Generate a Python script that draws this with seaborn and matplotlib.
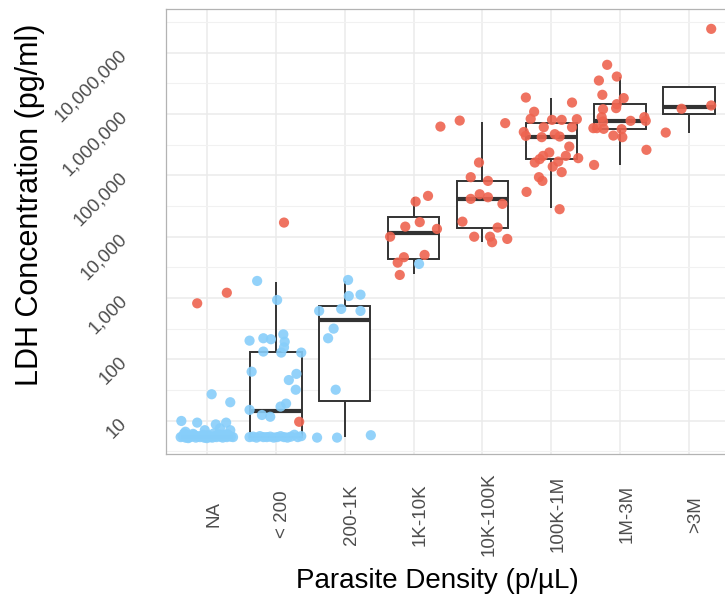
import pandas as pd
import seaborn as sns
import matplotlib.pyplot as plt
import matplotlib.transforms as mtransforms


sns.set_theme(style="white")
plt.rcParams["font.family"] = ["Liberation Sans", "DejaVu Sans"]

categories = ["NA", "< 200", "200-1K", "1K-10K", "10K-100K", "100K-1M", "1M-3M", ">3M"]

y_ticks = [10, 100, 1000, 10000, 100000, 1000000, 10000000]
y_tick_labels = ["10", "100", "1,000", "10,000", "100,000", "1,000,000", "10,000,000"]

# points: jitter offset (share of category step), LDH value, colour group
na_dx = [-0.14, 0.29, 0.07, 0.34, -0.37, -0.14, 0.13, 0.28, -0.03, -0.31, 0.34, 0.19,
         -0.38, -0.35, -0.31, -0.28, -0.25, -0.22, -0.19, -0.16, -0.13, -0.10, -0.07, -0.04,
         -0.01, 0.02, 0.05, 0.08, 0.11, 0.14, 0.17, 0.20, 0.23, 0.26, 0.29, 0.32,
         0.35, 0.38, -0.33, -0.20, -0.05, 0.10, 0.24, -0.27, 0.00, 0.30]
na_ldh = [820, 1220, 27, 20, 9.9, 9.3, 8.7, 9.3, 7.0, 6.6, 7.0, 7.5,
          5.4, 5.6, 5.3, 5.8, 5.4, 5.5, 5.9, 5.3, 5.6, 5.4, 5.7, 5.3,
          5.5, 5.8, 5.4, 5.3, 5.6, 5.4, 6.0, 5.5, 5.3, 5.6, 5.4, 5.7,
          5.5, 5.4, 6.2, 6.1, 5.9, 6.2, 5.9, 5.2, 5.2, 6.0]
na_grp = ["red", "red"] + ["blue"] * 44

lt200_dx = [0.12, 0.34, -0.27, 0.02, -0.38, -0.18, -0.07, 0.11, 0.13, 0.12, -0.18, 0.08,
            0.37, -0.35, 0.19, 0.30, 0.29, 0.15, 0.07, -0.38, -0.20, -0.08,
            -0.38, -0.33, -0.28, -0.23, -0.18, -0.13, -0.08, -0.03, 0.02, 0.07,
            0.12, 0.17, 0.22, 0.27, 0.32, 0.37]
lt200_ldh = [17000, 9.6, 1900, 930, 202, 221, 213, 256, 194, 157, 134, 129,
             129, 63, 46, 58, 32, 19, 17, 15, 12.4, 11.6,
             5.4, 5.5, 5.3, 5.6, 5.4, 5.4, 5.5, 5.3, 5.4, 5.6,
             5.4, 5.3, 5.5, 5.9, 5.4, 5.6]
lt200_grp = ["red", "red"] + ["blue"] * 36

k200_dx = [0.05, 0.06, 0.23, -0.37, -0.05, 0.23, -0.16, -0.24, -0.13, -0.40, -0.11, 0.38]
k200_ldh = [1970, 1080, 1135, 617, 664, 617, 317, 221, 32, 5.3, 5.3, 5.8]
k200_grp = ["blue"] * 12

k1_dx = [0.03, 0.21, -0.12, 0.09, 0.34, -0.34, -0.14, 0.16, -0.23, -0.20, 0.39, 0.08]
k1_ldh = [37400, 46300, 14600, 17300, 13400, 10000, 4630, 5050, 3780, 2380, 625000, 3600]
k1_grp = ["red"] * 11 + ["blue"]

k10_dx = [-0.33, 0.33, -0.05, -0.17, 0.08, -0.04, 0.08, -0.17, 0.29, -0.29, 0.22, -0.12,
          0.11, 0.14, 0.36]
k10_ldh = [783000, 711000, 162000, 93500, 81300, 49300, 44000, 41400, 34300, 17600, 14100,
           10000, 10000, 8130, 9200]
k10_grp = ["red"] * 15

k100_dx = [-0.40, -0.36, -0.37, 0.30, -0.25, -0.30, 0.01, 0.15, 0.37, -0.11, 0.30, -0.37,
           -0.14, 0.05, 0.12, 0.26, -0.03, -0.12, -0.17, -0.24, 0.21, 0.39, 0.10, 0.02,
           0.15, -0.18, -0.13, 0.12]
k100_ldh = [510000, 53800, 1860000, 1540000, 1090000, 835000, 804000, 804000, 826000,
            611000, 611000, 441000, 420000, 470000, 430000, 295000, 236000, 208000,
            184000, 162000, 208000, 191000, 168000, 139000, 113000, 93500, 81300, 28100]
k100_grp = ["red"] * 28

m1_dx = [-0.19, -0.31, -0.05, -0.26, 0.05, -0.05, -0.06, -0.25, -0.27, -0.25, 0.15, 0.35,
         0.37, -0.39, -0.24, 0.02, -0.10, 0.03, 0.38, -0.38, -0.34]
m1_ldh = [6350000, 3520000, 4090000, 2060000, 1820000, 1450000, 1250000, 1200000, 890000,
          755000, 775000, 890000, 775000, 589000, 574000, 567000, 446000, 420000, 261000,
          148000, 589000]
m1_grp = ["red"] * 21

m3_dx = [0.32, -0.11, 0.32, -0.34]
m3_ldh = [24500000, 1220000, 1380000, 499000]
m3_grp = ["red"] * 4

# box summaries (low whisker, q1, median, q3, high whisker)
box_lo = [5.5, 5.4, 5.35, 2470, 8320, 29200, 148000, 499000]
box_q1 = [5.5, 5.4, 20.7, 4290, 14100, 184000, 574000, 995000]
box_med = [5.5, 14.6, 440, 11700, 40900, 429000, 783000, 1300000]
box_q3 = [5.5, 134, 743, 20800, 81300, 727000, 1450000, 2810000]
box_hi = [5.5, 1850, 1900, 45100, 755000, 1820000, 4090000, 2810000]

groups = [(na_dx, na_ldh, na_grp), (lt200_dx, lt200_ldh, lt200_grp),
          (k200_dx, k200_ldh, k200_grp), (k1_dx, k1_ldh, k1_grp),
          (k10_dx, k10_ldh, k10_grp), (k100_dx, k100_ldh, k100_grp),
          (m1_dx, m1_ldh, m1_grp), (m3_dx, m3_ldh, m3_grp)]

rows = []
for i, (dx, ldh, grp) in enumerate(groups):
    for d, v, g in zip(dx, ldh, grp):
        rows.append({"pos": i + d, "ldh": v, "grp": g})
pts = pd.DataFrame(rows)

box_rows = []
for i, cat in enumerate(categories):
    for v in (box_lo[i], box_q1[i], box_med[i], box_q3[i], box_hi[i]):
        box_rows.append({"cat": cat, "ldh": v})
boxes = pd.DataFrame(box_rows)


fig = plt.figure(figsize=(7.25, 6.04), dpi=100)
ax = fig.add_axes([165.5 / 725, 1 - 454 / 604, 565 / 725, 445 / 604])
ax.set_yscale("log")

sns.boxplot(data=boxes, x="cat", y="ldh", order=categories, whis=(0, 100), width=0.75,
            color="white", linecolor="#333333", linewidth=1.4, showcaps=False,
            showfliers=False, medianprops={"linewidth": 3.0}, ax=ax)

sns.scatterplot(data=pts, x="pos", y="ldh", hue="grp",
                palette={"blue": "#87CEFA", "red": "#EE6450"},
                s=54, linewidth=0, alpha=0.9, legend=False, zorder=3, ax=ax)

ax.set_xlim(-0.6, 7.6)
ax.set_ylim(10 ** 0.457, 10 ** 7.713)

ax.set_yticks(y_ticks, y_tick_labels)
ax.set_yticks([10 ** (k + 0.5) for k in range(0, 8)], minor=True)
ax.yaxis.set_minor_formatter(plt.NullFormatter())
ax.set_xticks(range(len(categories)), categories)

ax.set_axisbelow(True)
ax.grid(which="major", color="#EBEBEB", linewidth=1.1)
ax.grid(which="minor", axis="y", color="#F1F1F1", linewidth=0.8)
for sp in ax.spines.values():
    sp.set_color("#B3B3B3")
    sp.set_linewidth(0.9)

ax.tick_params(axis="both", which="major", color="#B3B3B3", length=3.5, width=0.9,
               labelcolor="#4D4D4D", labelsize=13.5)
ax.tick_params(axis="y", which="minor", length=0)
ax.tick_params(axis="x", pad=40)
ax.tick_params(axis="y", pad=26)

shift = mtransforms.ScaledTranslation(5 / 72, 0, fig.dpi_scale_trans)
for lab in ax.get_xticklabels():
    lab.set_rotation(90)
    lab.set_va("center")
    lab.set_ha("center")
    lab.set_transform(lab.get_transform() + shift)
for lab in ax.get_yticklabels():
    lab.set_rotation(45)
    lab.set_ha("right")
    lab.set_va("center")
    lab.set_rotation_mode("anchor")

ax.set_xlabel("Parasite Density (p/\u00b5L)", fontsize=20, color="black")
ax.set_ylabel("LDH Concentration (pg/ml)", fontsize=22, color="black")
ax.xaxis.set_label_coords(0.482, -0.285)
ax.yaxis.set_label_coords(-0.24, 0.56)
ax.xaxis.label.set_va("center")
ax.yaxis.label.set_va("center")

fig.savefig("out.png", dpi=100)
